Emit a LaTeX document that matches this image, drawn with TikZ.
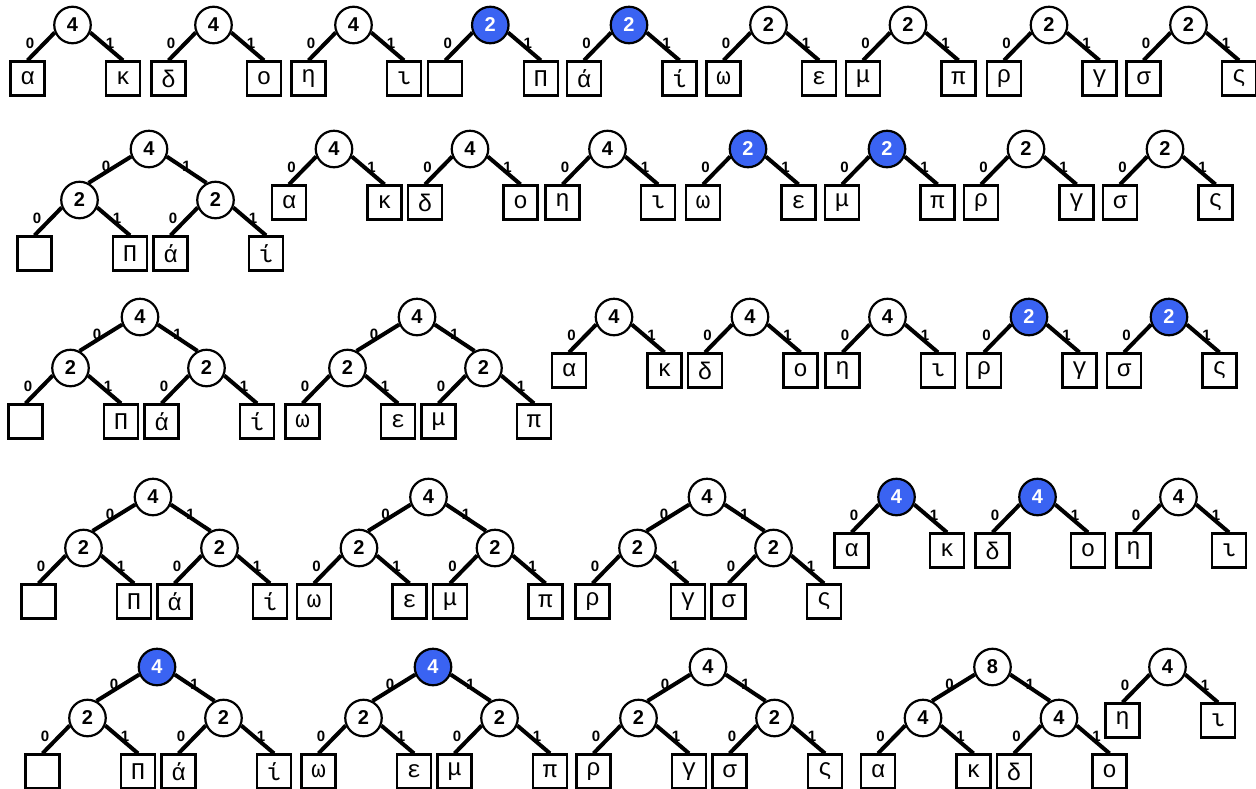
\documentclass[tikz,border=0pt]{standalone}
\usepackage{fontspec}
\newfontfamily\numfam{Liberation Sans}
\newfontfamily\monofam{Liberation Mono}
\newcommand\numfont{\numfam\bfseries\fontsize{20}{20}\selectfont}
\newcommand\labfont{\numfam\bfseries\fontsize{15}{15}\selectfont}
\newcommand\leaffont{\monofam\fontsize{24}{24}\selectfont}
\definecolor{hblue}{RGB}{58,99,242}
\tikzset{
  wnode/.style={circle, draw, line width=2.2pt, minimum size=36.5pt, inner sep=0pt, fill=white, font=\numfont},
  bnode/.style={wnode, fill=hblue, text=white},
  leafbox/.style={rectangle, draw, line width=2.2pt, minimum size=34pt, inner sep=0pt, font=\leaffont},
  conn/.style={line width=4pt},
  elab/.style={font=\labfont, inner sep=0pt},
}
% small tree: prefix, x, y, weight, style, left leaf, right leaf
\def\ST#1#2#3#4#5#6#7{%
  \node[#5] (#1) at ({#2},{#3}) {#4};
  \node[leafbox] (#1-L) at ({#2-45},{#3+53.5}) {#6};
  \node[leafbox] (#1-R) at ({#2+50.5},{#3+53.5}) {#7};
  \draw[conn] (#1.203) -- (#1-L.north);
  \draw[conn] (#1.-23) -- (#1-R.north);
  \node[elab] (#1-l0) at ({#2-42.5},{#3+18}) {0};
  \node[elab] (#1-l1) at ({#2+37.5},{#3+18}) {1};
}
% big tree root: prefix, x, y, weight, style; children are #1a and #1b
\def\BT#1#2#3#4#5{%
  \node[#5] (#1) at ({#2},{#3}) {#4};
  \draw[conn] (#1.203) -- (#1a.62);
  \draw[conn] (#1.-23) -- (#1b.118);
  \node[elab] (#1-l0) at ({#2-43},{#3+17}) {0};
  \node[elab] (#1-l1) at ({#2+37.5},{#3+17}) {1};
}
\begin{document}
\begin{tikzpicture}[x=1pt,y=-1pt]
\useasboundingbox (0,0) rectangle (1256,788);
% row 1
\ST{a1}{72.5}{25}{4}{wnode}{α}{κ}
\ST{a2}{213.5}{25}{4}{wnode}{δ}{ο}
\ST{a3}{353.5}{25}{4}{wnode}{η}{ι}
\ST{a4}{490.3}{25}{2}{bnode}{}{Π}
\ST{a5}{629}{25}{2}{bnode}{ά}{ί}
\ST{a6}{768.5}{25}{2}{wnode}{ω}{ε}
\ST{a7}{908}{25}{2}{wnode}{μ}{π}
\ST{a8}{1049}{25}{2}{wnode}{ρ}{γ}
\ST{a9}{1188.5}{25}{2}{wnode}{σ}{ς}
% row 2
\ST{bTa}{149-69.5}{149+51}{2}{wnode}{}{Π}
\ST{bTb}{149+66.5}{149+51}{2}{wnode}{ά}{ί}
\BT{bT}{149}{149}{4}{wnode}
\ST{b2}{334}{149}{4}{wnode}{α}{κ}
\ST{b3}{470}{149}{4}{wnode}{δ}{ο}
\ST{b4}{607.5}{149}{4}{wnode}{η}{ι}
\ST{b5}{748}{149}{2}{bnode}{ω}{ε}
\ST{b6}{887}{149}{2}{bnode}{μ}{π}
\ST{b7}{1026}{149}{2}{wnode}{ρ}{γ}
\ST{b8}{1165}{149}{2}{wnode}{σ}{ς}
% row 3
\ST{cAa}{140-69.5}{317+51}{2}{wnode}{}{Π}
\ST{cAb}{140+66.5}{317+51}{2}{wnode}{ά}{ί}
\BT{cA}{140}{317}{4}{wnode}
\ST{cBa}{417-69.5}{317+51}{2}{wnode}{ω}{ε}
\ST{cBb}{417+66.5}{317+51}{2}{wnode}{μ}{π}
\BT{cB}{417}{317}{4}{wnode}
\ST{c3}{614}{317}{4}{wnode}{α}{κ}
\ST{c4}{750}{317}{4}{wnode}{δ}{ο}
\ST{c5}{887.5}{317}{4}{wnode}{η}{ι}
\ST{c6}{1029}{317}{2}{bnode}{ρ}{γ}
\ST{c7}{1169}{317}{2}{bnode}{σ}{ς}
% row 4
\ST{dAa}{153-69.5}{497+51}{2}{wnode}{}{Π}
\ST{dAb}{153+66.5}{497+51}{2}{wnode}{ά}{ί}
\BT{dA}{153}{497}{4}{wnode}
\ST{dBa}{428.5-69.5}{497+51}{2}{wnode}{ω}{ε}
\ST{dBb}{428.5+66.5}{497+51}{2}{wnode}{μ}{π}
\BT{dB}{428.5}{497}{4}{wnode}
\ST{dCa}{707-69.5}{497+51}{2}{wnode}{ρ}{γ}
\ST{dCb}{707+66.5}{497+51}{2}{wnode}{σ}{ς}
\BT{dC}{707}{497}{4}{wnode}
\ST{d4}{896.5}{497}{4}{bnode}{α}{κ}
\ST{d5}{1037.5}{497}{4}{bnode}{δ}{ο}
\ST{d6}{1178.5}{497}{4}{wnode}{η}{ι}
% row 5
\ST{eAa}{157-69.5}{667+51}{2}{wnode}{}{Π}
\ST{eAb}{157+66.5}{667+51}{2}{wnode}{ά}{ί}
\BT{eA}{157}{667}{4}{bnode}
\ST{eBa}{433-69.5}{667+51}{2}{wnode}{ω}{ε}
\ST{eBb}{433+66.5}{667+51}{2}{wnode}{μ}{π}
\BT{eB}{433}{667}{4}{bnode}
\ST{eCa}{708-69.5}{667+51}{2}{wnode}{ρ}{γ}
\ST{eCb}{708+66.5}{667+51}{2}{wnode}{σ}{ς}
\BT{eC}{708}{667}{4}{wnode}
\ST{eDa}{992.5-69.5}{667+51}{4}{wnode}{α}{κ}
\ST{eDb}{992.5+66.5}{667+51}{4}{wnode}{δ}{ο}
\BT{eD}{992.5}{667}{8}{wnode}
\ST{e5}{1167.5}{667}{4}{wnode}{η}{ι}
\end{tikzpicture}
\end{document}
